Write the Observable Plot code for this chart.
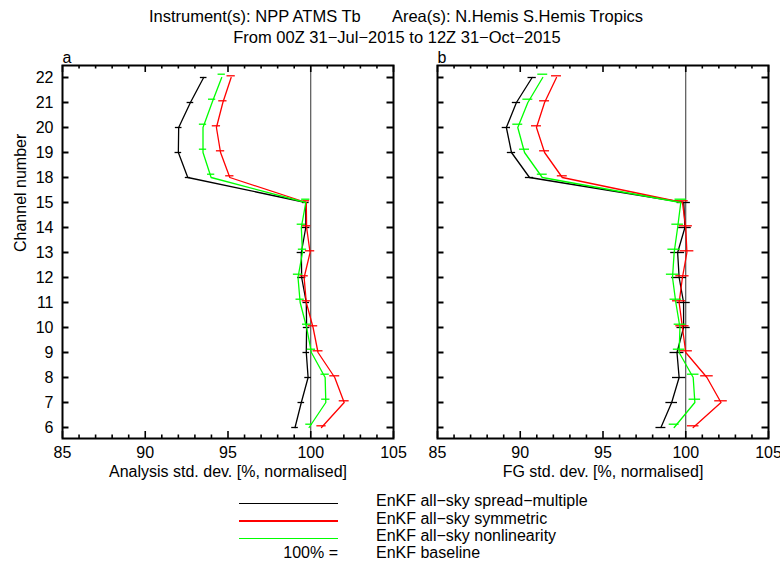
<!DOCTYPE html>
<html>
<head>
<meta charset="utf-8">
<script src="https://cdn.jsdelivr.net/npm/d3@7"></script>
<script src="https://cdn.jsdelivr.net/npm/@observablehq/plot@0.6"></script>
<style>
  html, body { margin: 0; padding: 0; background: #fff; }
  #page { position: relative; width: 780px; height: 563px; overflow: hidden; background: #fff;
          font-family: "Liberation Sans", Arial, Helvetica, sans-serif; color: #000; }
  .title { position: absolute; transform: translate(-50%, -50%); white-space: pre; font-size: 16.5px; }
  .panel { position: absolute; top: 0; }
  .leg-line { position: absolute; height: 1.6px; }
  .leg-text { position: absolute; font-size: 16px; white-space: pre; transform: translateY(-50%); }
</style>
</head>
<body>
<div id="page">
  <div class="title" style="left:396px; top:16px;">Instrument(s): NPP ATMS Tb       Area(s): N.Hemis S.Hemis Tropics</div>
  <div class="title" style="left:397px; top:37px;">From 00Z 31−Jul−2015 to 12Z 31−Oct−2015</div>
  <div id="left" class="panel" style="left:0px;"></div>
  <div id="right" class="panel" style="left:375px;"></div>
  <div id="legend"></div>
</div>
<script>
// Channels in display order (top to bottom); the y scale is ordinal.
const channels = ["22", "21", "20", "19", "18", "15", "14", "13", "12", "11", "10", "9", "8", "7", "6"];

// Axis ticks
const xMajorTicks = [85, 90, 95, 100, 105];
const xMinorTicks = [86, 87, 88, 89, 91, 92, 93, 94, 96, 97, 98, 99, 101, 102, 103, 104];

// Experiment names and colours
const seriesNames = ["EnKF all−sky spread−multiple", "EnKF all−sky symmetric", "EnKF all−sky nonlinearity"];
const seriesColors = ["#000000", "#ff0000", "#00ff00"];
const baselineName = "EnKF baseline";

// Analysis std. dev. [% of baseline]
const anSpread = [93.53, 92.73, 92.02, 92.0, 92.57, 99.7, 99.7, 99.43, 99.45, 99.73, 99.75, 99.73, 99.84, 99.43, 99.05];
const anSymmetric = [95.19, 94.69, 94.30, 94.55, 95.11, 99.73, 99.75, 99.96, 99.6, 99.73, 100.14, 100.44, 101.45, 102.02, 100.65];
const anNonlin = [94.62, 94.04, 93.49, 93.49, 93.98, 99.7, 99.43, 99.5, 99.23, 99.36, 99.75, 100.04, 100.87, 100.91, 99.9];
// Half-widths of the confidence bars
const anSpreadErr = [0.2, 0.2, 0.2, 0.2, 0.15, 0.2, 0.25, 0.25, 0.25, 0.2, 0.2, 0.2, 0.2, 0.2, 0.2];
const anSymmetricErr = [0.25, 0.25, 0.25, 0.25, 0.25, 0.2, 0.25, 0.28, 0.25, 0.25, 0.28, 0.3, 0.3, 0.3, 0.28];
const anNonlinErr = [0.22, 0.22, 0.22, 0.22, 0.22, 0.25, 0.25, 0.25, 0.28, 0.25, 0.25, 0.25, 0.25, 0.25, 0.2];

// First-guess std. dev. [% of baseline]
const fgSpread = [90.72, 89.77, 89.16, 89.47, 90.56, 99.88, 99.95, 99.51, 99.6, 99.87, 99.87, 99.47, 99.6, 99.15, 98.5];
const fgSymmetric = [92.19, 91.47, 90.98, 91.47, 92.54, 99.8, 100.0, 100.07, 99.8, 99.6, 99.8, 100.0, 101.28, 102.13, 100.45];
const fgNonlin = [91.36, 90.46, 89.85, 90.26, 91.33, 99.7, 99.51, 99.3, 99.2, 99.4, 99.65, 99.6, 100.45, 100.55, 99.3];
const fgSpreadErr = [0.25, 0.25, 0.25, 0.25, 0.25, 0.4, 0.38, 0.42, 0.45, 0.4, 0.4, 0.42, 0.4, 0.35, 0.3];
const fgSymmetricErr = [0.3, 0.3, 0.3, 0.3, 0.3, 0.35, 0.4, 0.42, 0.4, 0.4, 0.4, 0.4, 0.38, 0.38, 0.35];
const fgNonlinErr = [0.3, 0.3, 0.3, 0.3, 0.3, 0.35, 0.35, 0.38, 0.37, 0.35, 0.35, 0.35, 0.35, 0.35, 0.3];

function rows(values, errs) {
  return channels.map((ch, i) => ({ch, v: values[i], e: errs[i]}));
}

const W = 400, H = 480, mTop = 65, mBottom = 42, mLeft = 62, mRight = 7;
const frameW = W - mLeft - mRight, frameH = H - mTop - mBottom;
const font = "'Liberation Sans', Arial, Helvetica, sans-serif";
// Small vertical offsets keep the confidence bars of the three experiments apart
const barOffsets = [0, -1.7, -3.3];

function panel({series, letter, xLabel, yLabels}) {
  const marks = [];
  // Reference line at 100 %
  marks.push(Plot.ruleX([100], {stroke: "#333", strokeWidth: 1}));
  series.forEach((s, i) => {
    marks.push(Plot.line(s, {x: "v", y: "ch", stroke: seriesColors[i], strokeWidth: 1.3}));
    marks.push(Plot.ruleY(s, {y: "ch", x1: d => d.v - d.e, x2: d => d.v + d.e,
      stroke: seriesColors[i], strokeWidth: 1.3, dy: barOffsets[i]}));
  });
  // Inward ticks on all four sides
  marks.push(Plot.ruleX(xMajorTicks, {insetTop: frameH - 7, strokeWidth: 1.6}));
  marks.push(Plot.ruleX(xMinorTicks, {insetTop: frameH - 3.5, strokeWidth: 1.6}));
  marks.push(Plot.ruleX(xMajorTicks, {insetBottom: frameH - 7, strokeWidth: 1.6}));
  marks.push(Plot.ruleX(xMinorTicks, {insetBottom: frameH - 3.5, strokeWidth: 1.6}));
  marks.push(Plot.ruleY(channels, {insetRight: frameW - 6.5, strokeWidth: 2}));
  marks.push(Plot.ruleY(channels, {insetLeft: frameW - 6.5, strokeWidth: 2}));
  marks.push(Plot.frame({stroke: "#000", strokeWidth: 2}));
  marks.push(Plot.axisX({ticks: xMajorTicks, tickSize: 0, tickPadding: 8, label: null, fontSize: 16}));
  if (yLabels) {
    marks.push(Plot.axisY({tickSize: 0, tickPadding: 9, label: null, fontSize: 16}));
    marks.push(Plot.text(["Channel number"], {frameAnchor: "left", rotate: -90, dx: -42, fontSize: 16}));
  }
  marks.push(Plot.text([xLabel], {frameAnchor: "bottom", lineAnchor: "top", dy: 27, fontSize: 16}));
  marks.push(Plot.text([letter], {frameAnchor: "top-left", textAnchor: "start", lineAnchor: "bottom", dy: -3, fontSize: 16}));
  return Plot.plot({
    width: W, height: H,
    marginTop: mTop, marginBottom: mBottom, marginLeft: mLeft, marginRight: mRight,
    style: {fontFamily: font, fontSize: "16px", background: "transparent", color: "#000", overflow: "visible"},
    x: {domain: [85, 105], axis: null},
    y: {type: "point", domain: channels, padding: 0.42, axis: null},
    marks
  });
}

document.getElementById("left").appendChild(panel({
  series: [rows(anSpread, anSpreadErr), rows(anSymmetric, anSymmetricErr), rows(anNonlin, anNonlinErr)],
  letter: "a", xLabel: "Analysis std. dev. [%, normalised]", yLabels: true
}));
document.getElementById("right").appendChild(panel({
  series: [rows(fgSpread, fgSpreadErr), rows(fgSymmetric, fgSymmetricErr), rows(fgNonlin, fgNonlinErr)],
  letter: "b", xLabel: "FG std. dev. [%, normalised]", yLabels: false
}));

// Legend
const legend = document.getElementById("legend");
const rowY = [501, 518.5, 536];
seriesNames.forEach((name, i) => {
  const line = document.createElement("div");
  line.className = "leg-line";
  line.style.cssText = `left:239px; width:99px; top:${rowY[i] + 1.5}px; background:${seriesColors[i]};`;
  legend.appendChild(line);
  const t = document.createElement("div");
  t.className = "leg-text";
  t.style.cssText = `left:376px; top:${rowY[i]}px;`;
  t.textContent = name;
  legend.appendChild(t);
});
const pct = document.createElement("div");
pct.className = "leg-text";
pct.style.cssText = "right:442px; top:553px;";
pct.textContent = "100% =";
legend.appendChild(pct);
const base = document.createElement("div");
base.className = "leg-text";
base.style.cssText = "left:376px; top:553px;";
base.textContent = baselineName;
legend.appendChild(base);
</script>
</body>
</html>
